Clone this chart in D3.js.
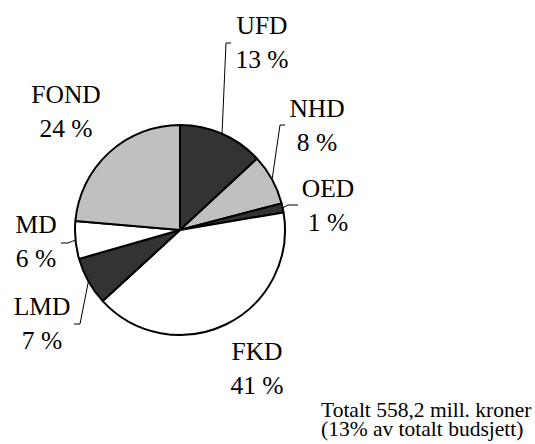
<!DOCTYPE html>
<html>
<head>
<meta charset="utf-8">
<script src="https://cdn.jsdelivr.net/npm/d3@7"></script>
</head>
<body style="margin:0">
<div id="chart"></div>
<script>
const w = 535;
const h = 444;
const serif = "'Liberation Serif'";

// budget shares, clockwise from 12 o'clock
const names = ["UFD", "NHD", "OED", "FKD", "LMD", "MD", "FOND"];
const shares = [13.1, 7.8, 1.4, 40.8, 7.4, 5.8, 23.6];
const fills = ["#333333", "#c0c0c0", "#333333", "#ffffff", "#333333", "#ffffff", "#c0c0c0"];
const footer = ["Totalt 558,2 mill. kroner", "(13% av totalt budsjett)"];

// label placement: centre x, baseline of name line, leader bend + end (null = no leader)
const labelLayout = {
  UFD:  {x: 262, y: 34,  leader: [[226, 43], [231, 43]]},
  NHD:  {x: 317, y: 117, leader: [[280, 125], [285, 125]]},
  OED:  {x: 328, y: 197, leader: [[288, 205], [298, 205]]},
  FKD:  {x: 257, y: 360, leader: null},
  LMD:  {x: 42,  y: 315, leader: [[80, 324], [74, 324]]},
  MD:   {x: 36,  y: 233, leader: [[68, 243], [61, 243]]},
  FOND: {x: 66,  y: 103, leader: null}
};

const cx = 180, cy = 230, r = 105;

let svg = d3.select("#chart").append("svg").attr("width", w).attr("height", h);

let data = names.map((n, i) => ({name: n, share: shares[i], fill: fills[i]}));

let pie = d3.pie().sort(null).value((d) => d.share);
let arc = d3.arc().innerRadius(0).outerRadius(r);
let arcs = pie(data);

let g = svg.append("g").attr("transform", "translate(" + cx + "," + cy + ")");

g.selectAll("path").data(arcs)
  .enter().append("path")
  .attr("d", arc)
  .attr("fill", (d) => d.data.fill)
  .attr("stroke", "#000")
  .attr("stroke-width", 2)
  .attr("stroke-linejoin", "round");

// leader lines from the middle of each slice's rim
arcs.forEach(function(d) {
  let lay = labelLayout[d.data.name];
  if (!lay.leader) return;
  let mid = (d.startAngle + d.endAngle) / 2;
  let start = [cx + r * Math.sin(mid), cy - r * Math.cos(mid)];
  let pts = [start].concat(lay.leader);
  svg.append("polyline")
    .attr("points", pts.map((p) => p.join(",")).join(" "))
    .attr("fill", "none")
    .attr("stroke", "#000")
    .attr("stroke-width", 1);
});

let fmt = d3.format(".0f");
arcs.forEach(function(d) {
  let lay = labelLayout[d.data.name];
  svg.append("text")
    .attr("x", lay.x).attr("y", lay.y)
    .attr("text-anchor", "middle")
    .attr("font-size", 25.5)
    .style("font-family", serif)
    .text(d.data.name);
  svg.append("text")
    .attr("x", lay.x).attr("y", lay.y + 34)
    .attr("text-anchor", "middle")
    .attr("font-size", 25.5)
    .style("font-family", serif)
    .text(fmt(d.data.share) + " %");
});

svg.selectAll(".foot").data(footer)
  .enter().append("text")
  .attr("class", "foot")
  .attr("x", 321)
  .attr("y", (d, i) => 417 + i * 18.5)
  .attr("font-size", 21.5)
  .style("font-family", serif)
  .text((d) => d);
</script>
</body>
</html>
